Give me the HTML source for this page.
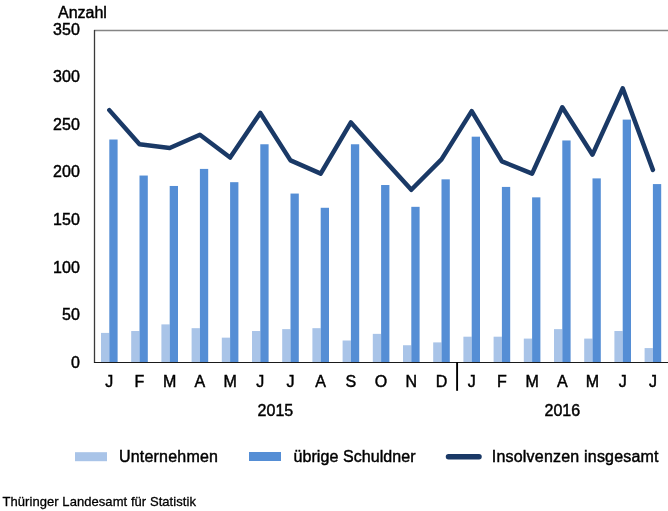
<!DOCTYPE html>
<html><head><meta charset="utf-8"><style>
html,body{margin:0;padding:0;background:#fff;width:668px;height:511px;overflow:hidden}
svg{display:block;will-change:transform}
.t{font-family:"Liberation Sans",sans-serif;font-size:16px;fill:#000;stroke:#000;stroke-width:0.45px}
.f{font-family:"Liberation Sans",sans-serif;font-size:13px;fill:#000;stroke:#000;stroke-width:0.3px}
</style></head><body>
<svg width="668" height="511" viewBox="0 0 668 511">
<rect x="101.00" y="332.91" width="8.30" height="29.39" fill="#A9C4E8"/>
<rect x="109.30" y="139.52" width="8.30" height="222.78" fill="#558ED5"/>
<rect x="131.20" y="331.02" width="8.30" height="31.28" fill="#A9C4E8"/>
<rect x="139.50" y="175.54" width="8.30" height="186.76" fill="#558ED5"/>
<rect x="161.40" y="324.38" width="8.30" height="37.92" fill="#A9C4E8"/>
<rect x="169.70" y="185.97" width="8.30" height="176.33" fill="#558ED5"/>
<rect x="191.60" y="328.17" width="8.30" height="34.13" fill="#A9C4E8"/>
<rect x="199.90" y="168.91" width="8.30" height="193.39" fill="#558ED5"/>
<rect x="221.80" y="337.65" width="8.30" height="24.65" fill="#A9C4E8"/>
<rect x="230.10" y="182.18" width="8.30" height="180.12" fill="#558ED5"/>
<rect x="252.00" y="331.02" width="8.30" height="31.28" fill="#A9C4E8"/>
<rect x="260.30" y="144.26" width="8.30" height="218.04" fill="#558ED5"/>
<rect x="282.20" y="329.12" width="8.30" height="33.18" fill="#A9C4E8"/>
<rect x="290.50" y="193.56" width="8.30" height="168.74" fill="#558ED5"/>
<rect x="312.40" y="328.17" width="8.30" height="34.13" fill="#A9C4E8"/>
<rect x="320.70" y="207.78" width="8.30" height="154.52" fill="#558ED5"/>
<rect x="342.60" y="340.50" width="8.30" height="21.80" fill="#A9C4E8"/>
<rect x="350.90" y="144.26" width="8.30" height="218.04" fill="#558ED5"/>
<rect x="372.80" y="333.86" width="8.30" height="28.44" fill="#A9C4E8"/>
<rect x="381.10" y="185.02" width="8.30" height="177.28" fill="#558ED5"/>
<rect x="403.00" y="345.24" width="8.30" height="17.06" fill="#A9C4E8"/>
<rect x="411.30" y="206.83" width="8.30" height="155.47" fill="#558ED5"/>
<rect x="433.20" y="342.39" width="8.30" height="19.91" fill="#A9C4E8"/>
<rect x="441.50" y="179.34" width="8.30" height="182.96" fill="#558ED5"/>
<rect x="463.40" y="336.70" width="8.30" height="25.60" fill="#A9C4E8"/>
<rect x="471.70" y="136.68" width="8.30" height="225.62" fill="#558ED5"/>
<rect x="493.60" y="336.70" width="8.30" height="25.60" fill="#A9C4E8"/>
<rect x="501.90" y="186.92" width="8.30" height="175.38" fill="#558ED5"/>
<rect x="523.80" y="338.60" width="8.30" height="23.70" fill="#A9C4E8"/>
<rect x="532.10" y="197.35" width="8.30" height="164.95" fill="#558ED5"/>
<rect x="554.00" y="329.12" width="8.30" height="33.18" fill="#A9C4E8"/>
<rect x="562.30" y="140.47" width="8.30" height="221.83" fill="#558ED5"/>
<rect x="584.20" y="338.60" width="8.30" height="23.70" fill="#A9C4E8"/>
<rect x="592.50" y="178.39" width="8.30" height="183.91" fill="#558ED5"/>
<rect x="614.40" y="331.02" width="8.30" height="31.28" fill="#A9C4E8"/>
<rect x="622.70" y="119.61" width="8.30" height="242.69" fill="#558ED5"/>
<rect x="644.60" y="348.08" width="8.30" height="14.22" fill="#A9C4E8"/>
<rect x="652.90" y="184.08" width="8.30" height="178.22" fill="#558ED5"/>
<line x1="94" y1="30.5" x2="668" y2="30.5" stroke="#858585" stroke-width="1.3"/>
<line x1="94.5" y1="30.0" x2="94.5" y2="362.90000000000003" stroke="#3a3a3a" stroke-width="1.3"/>
<line x1="94" y1="362.5" x2="668" y2="362.5" stroke="#1a1a1a" stroke-width="1.2"/>
<line x1="457.1" y1="362" x2="457.1" y2="390.8" stroke="#000" stroke-width="1.9"/>
<polyline points="109.30,110.13 139.50,144.26 169.70,148.05 199.90,134.78 230.10,157.53 260.30,112.98 290.50,160.38 320.70,173.65 350.90,122.46 381.10,156.58 411.30,189.76 441.50,159.43 471.70,111.08 501.90,161.32 532.10,173.65 562.30,107.29 592.50,154.69 622.70,88.33 652.90,169.86" fill="none" stroke="#1A3966" stroke-width="4.5" stroke-linejoin="round" stroke-linecap="round"/>
<text x="79.8" y="367.68" text-anchor="end" class="t">0</text>
<text x="79.8" y="320.11" text-anchor="end" class="t">50</text>
<text x="79.8" y="272.54" text-anchor="end" class="t">100</text>
<text x="79.8" y="224.97" text-anchor="end" class="t">150</text>
<text x="79.8" y="177.40" text-anchor="end" class="t">200</text>
<text x="79.8" y="129.83" text-anchor="end" class="t">250</text>
<text x="79.8" y="82.26" text-anchor="end" class="t">300</text>
<text x="79.8" y="34.69" text-anchor="end" class="t">350</text>
<text x="58" y="17.7" class="t">Anzahl</text>
<text x="109.30" y="386.9" text-anchor="middle" class="t">J</text>
<text x="139.50" y="386.9" text-anchor="middle" class="t">F</text>
<text x="169.70" y="386.9" text-anchor="middle" class="t">M</text>
<text x="199.90" y="386.9" text-anchor="middle" class="t">A</text>
<text x="230.10" y="386.9" text-anchor="middle" class="t">M</text>
<text x="260.30" y="386.9" text-anchor="middle" class="t">J</text>
<text x="290.50" y="386.9" text-anchor="middle" class="t">J</text>
<text x="320.70" y="386.9" text-anchor="middle" class="t">A</text>
<text x="350.90" y="386.9" text-anchor="middle" class="t">S</text>
<text x="381.10" y="386.9" text-anchor="middle" class="t">O</text>
<text x="411.30" y="386.9" text-anchor="middle" class="t">N</text>
<text x="441.50" y="386.9" text-anchor="middle" class="t">D</text>
<text x="471.70" y="386.9" text-anchor="middle" class="t">J</text>
<text x="501.90" y="386.9" text-anchor="middle" class="t">F</text>
<text x="532.10" y="386.9" text-anchor="middle" class="t">M</text>
<text x="562.30" y="386.9" text-anchor="middle" class="t">A</text>
<text x="592.50" y="386.9" text-anchor="middle" class="t">M</text>
<text x="622.70" y="386.9" text-anchor="middle" class="t">J</text>
<text x="652.90" y="386.9" text-anchor="middle" class="t">J</text>
<text x="275.40" y="415.7" text-anchor="middle" class="t">2015</text>
<text x="562.30" y="415.7" text-anchor="middle" class="t">2016</text>
<rect x="75" y="452.2" width="32" height="9" fill="#A9C4E8"/>
<text x="119" y="461.8" class="t" letter-spacing="0.2">Unternehmen</text>
<rect x="249" y="452" width="32" height="9" fill="#558ED5"/>
<text x="293.5" y="461.8" class="t" letter-spacing="0.07">übrige Schuldner</text>
<line x1="448.5" y1="456.8" x2="479" y2="456.8" stroke="#1A3966" stroke-width="5.5" stroke-linecap="round"/>
<text x="491.8" y="461.8" class="t" letter-spacing="0.2">Insolvenzen insgesamt</text>
<text x="2.5" y="505.5" class="f" letter-spacing="0.06">Thüringer Landesamt für Statistik</text>
</svg>
</body></html>
